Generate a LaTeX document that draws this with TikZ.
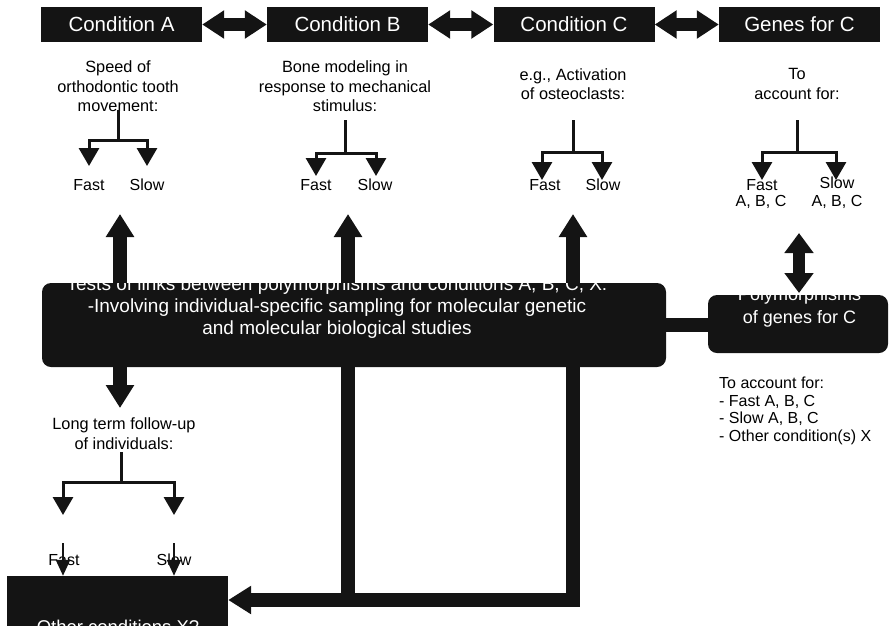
\documentclass[tikz,border=0pt]{standalone}
\usepackage{fontspec}
\setmainfont{Liberation Sans}
\usetikzlibrary{arrows.meta}
\definecolor{ink}{RGB}{20,20,20}
\begin{document}
\begin{tikzpicture}[x=1pt,y=-1pt,
  topbox/.style={fill=ink,text=white,minimum width=161pt,minimum height=35pt,inner sep=0pt,
    font=\fontsize{20.5}{24}\selectfont},
  desc/.style={align=center,inner sep=0pt,font=\fontsize{16.3}{19.5}\selectfont},
  lbl/.style={inner sep=0pt,font=\fontsize{16}{18}\selectfont},
  blackbox/.style={fill=ink,inner sep=0pt,rounded corners=9pt},
  whitetext/.style={text=white,align=center,inner sep=0pt},
  dblarrow/.style={draw=ink,line width=13pt,{Triangle[width=27pt,length=22pt]}-{Triangle[width=27pt,length=22pt]}},
  dblv/.style={draw=ink,line width=12pt,{Triangle[width=28pt,length=20pt]}-{Triangle[width=28pt,length=20pt]}},
  bigarrow/.style={draw=ink,line width=14pt,-{Triangle[width=27pt,length=23pt]}},
  hbar/.style={draw=ink,line width=14pt},
  treeline/.style={draw=ink,line width=3pt},
  treearrow/.style={draw=ink,line width=3pt,-{Triangle[width=20pt,length=18pt]}},
  smallarrow/.style={draw=ink,line width=2.5pt,-{Triangle[width=14pt,length=16pt]}}
]
\useasboundingbox (0,0) rectangle (891,625);

% top condition boxes
\node[topbox] (ca) at (121.5,24.5) {Condition A};
\node[topbox] (cb) at (347.5,24.5) {Condition B};
\node[topbox] (cc) at (574,24.5) {Condition C};
\node[topbox] (cg) at (799.5,24.5) {Genes for C};
\draw[dblarrow] (ca.east) -- (cb.west);
\draw[dblarrow] (cb.east) -- (cc.west);
\draw[dblarrow] (cc.east) -- (cg.west);

% descriptions
\node[desc] (da) at (118,86.5) {Speed of\\orthodontic tooth\\movement:};
\node[desc] (db) at (345,86.5) {Bone modeling in\\response to mechanical\\stimulus:};
\node[desc] (dc) at (573,84) {e.g., Activation\\of osteoclasts:};
\node[desc] (dg) at (797,84) {To\\account for:};
\node[desc] (dl) at (124,433.5) {Long term follow-up\\of individuals:};

% trees
\foreach \n/\sx/\st/\by/\lx/\rx/\ty in {a/118/110/140/89/147/166,
    b/345/120/153/316/376/176, c/573/120/152/542/602/180,
    g/797/120/152/762/836/180, l/121/452/482/63/174/515}{
  \coordinate (\n top) at (\sx,\st);
  \coordinate (\n br) at (\sx,\by);
  \coordinate (\n fl) at (\lx,\ty);
  \coordinate (\n sl) at (\rx,\ty);
  \draw[treeline] (\n top) -- (\n br);
  \draw[treearrow] (\n br) -| (\n fl);
  \draw[treearrow] (\n br) -| (\n sl);
}

% Fast / Slow labels
\node[lbl] (fa) at (89,185) {Fast};
\node[lbl] (sa) at (147,185) {Slow};
\node[lbl] (fb) at (316,185) {Fast};
\node[lbl] (sb) at (375,185) {Slow};
\node[lbl] (fc) at (545,185) {Fast};
\node[lbl] (sc) at (603,185) {Slow};
\node[lbl] (fg) at (762,185) {Fast};
\node[lbl] (sg) at (837,183) {Slow};
\node[lbl] (fgx) at (761,202) {A, B, C};
\node[lbl] (sgx) at (837,202) {A, B, C};

% main box and polymorphisms box
\node[blackbox,minimum width=624pt,minimum height=84pt] (main) at (354,325) {};
\node[whitetext,font=\fontsize{19}{22}\selectfont] (maintext) at (337,308)
  {Tests of links between polymorphisms and conditions A, B, C, X:\\
   -Involving individual-specific sampling for molecular genetic\\
   and molecular biological studies};
\node[blackbox,minimum width=180pt,minimum height=58pt] (poly) at (798,324) {};
\node[whitetext,font=\fontsize{18}{23}\selectfont] (polytext) at (799.5,307.5)
  {Polymorphisms\\of genes for C};
\draw[hbar] (main.east) -- (main.east -| poly.west);

% arrows between main box and conditions
\coordinate (upa) at (120,214);
\coordinate (upb) at (348,214);
\coordinate (upc) at (573,214);
\draw[bigarrow] (main.north -| upa) -- (upa);
\draw[bigarrow] (main.north -| upb) -- (upb);
\draw[bigarrow] (main.north -| upc) -- (upc);
\coordinate (pa1) at (799,233);
\coordinate (pa2) at (799,293);
\draw[dblv] (pa1) -- (pa2);

% right text
\node[anchor=north west,align=left,inner sep=0pt,font=\fontsize{16}{17.5}\selectfont] (acct) at (719,377)
  {To account for:\\- Fast A, B, C\\- Slow A, B, C\\- Other condition(s) X};

% lower part
\coordinate (dna) at (120,408);
\draw[bigarrow] (main.south -| dna) -- (dna);
\node[lbl] (fl2) at (64,560) {Fast};
\node[lbl] (sl2) at (174,560) {Slow};
\node[fill=ink,inner sep=0pt,minimum width=221pt,minimum height=104pt] (other) at (117.5,628) {};
\node[text=white,inner sep=0pt,anchor=base,font=\fontsize{18.5}{22}\selectfont] (othertext) at (118,633) {Other conditions X?};
\coordinate (s1) at (63,543);
\coordinate (s2) at (174,543);
\draw[smallarrow] (s1) -- (s1 |- other.north);
\draw[smallarrow] (s2) -- (s2 |- other.north);

\coordinate (hj) at (573,600);
\draw[hbar] (main.south -| upb) -- (upb |- hj);
\draw[bigarrow] (main.south -| hj) -- (hj) -- (other.east |- hj);
\end{tikzpicture}
\end{document}
